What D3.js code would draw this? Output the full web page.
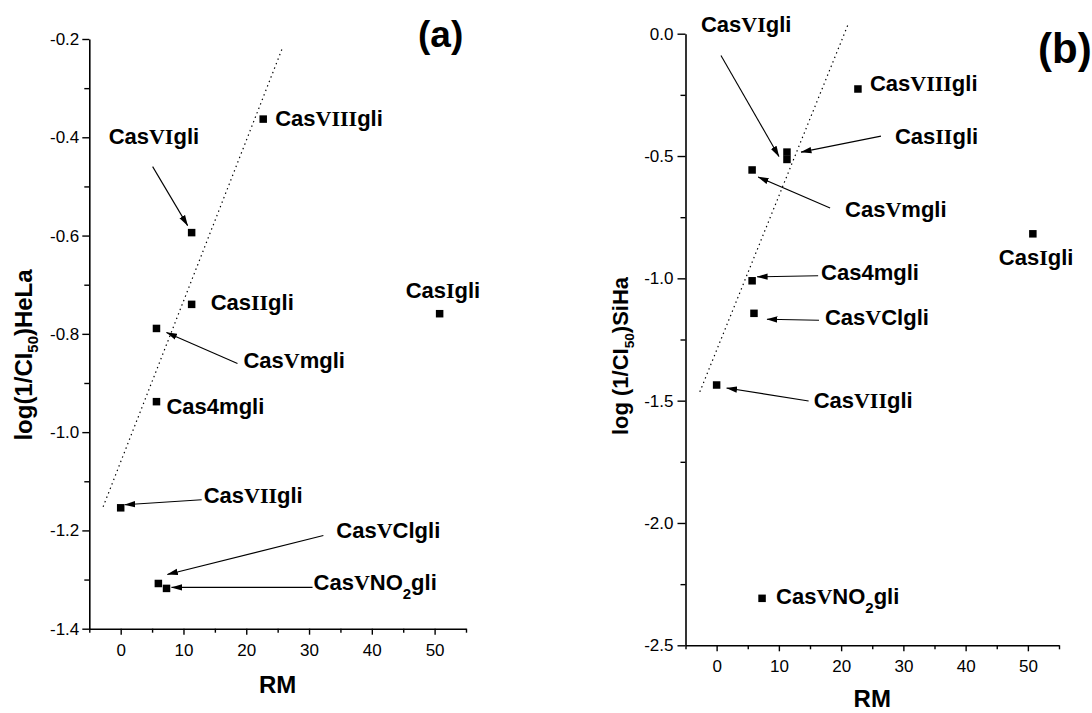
<!DOCTYPE html>
<html>
<head>
<meta charset="utf-8">
<script src="https://cdn.jsdelivr.net/npm/d3@7"></script>
<style>
  html, body { margin: 0; padding: 0; background: #fff; }
  svg { display: block; }
</style>
</head>
<body>
<svg id="chart" width="1092" height="713"></svg>
<script>
// ---- data ---------------------------------------------------------------
const compounds = ["CasIgli", "CasIIgli", "Cas4mgli", "CasVmgli", "CasVClgli",
                   "CasVNO2gli", "CasVIgli", "CasVIIgli", "CasVIIIgli"];
const rmValues  = [50.8, 11.3, 5.7, 5.7, 6.0, 7.3, 11.3, 0.0, 22.7];
const logHeLa   = [-0.759, -0.740, -0.938, -0.789, -1.308, -1.318, -0.594, -1.154, -0.363];
const logSiHa   = [-0.818, -0.484, -1.010, -0.557, -1.143, -2.308, -0.514, -1.436, -0.226];

// end points of the dotted correlation lines
const fitRMHeLa = [-2.8, 25.8];
const fitHeLa   = [-1.152, -0.217];
const fitRMSiHa = [-2.7, 21.2];
const fitSiHa   = [-1.464, 0.043];

// tick values
const xTicks      = [0, 10, 20, 30, 40, 50];
const xMinorTicks = [-5, 5, 15, 25, 35, 45, 55];
const yTicksHeLa  = [-1.4, -1.2, -1.0, -0.8, -0.6, -0.4, -0.2];
const yMinorHeLa  = [-1.3, -1.1, -0.9, -0.7, -0.5, -0.3];
const yTicksSiHa  = [-2.5, -2.0, -1.5, -1.0, -0.5, 0.0];
const yMinorSiHa  = [-2.25, -1.75, -1.25, -0.75, -0.25];

// ---- label placement (pixel offsets from each marker) ---------------------
// label: [dx, dy] of text start / baseline; arrow: [[tail dx,dy],[head dx,dy]]
const calloutsHeLa = {
  CasIgli:    { label: [-34, -16] },
  CasIIgli:   { label: [19, 6] },
  Cas4mgli:   { label: [10, 12] },
  CasVmgli:   { label: [87, 40],   arrow: [[81, 35], [10, 4]] },
  CasVClgli:  { label: [178, -45], arrow: [[165, -48], [9, -9]] },
  CasVNO2gli: { label: [147, 2],   arrow: [[146, -1], [5, -1]] },
  CasVIgli:   { label: [-83, -89], arrow: [[-39, -66], [-4, -7]] },
  CasVIIgli:  { label: [83, -5],   arrow: [[81, -8], [4, -3]] },
  CasVIIIgli: { label: [12, 7] }
};
const calloutsSiHa = {
  CasIgli:    { label: [-34, 31] },
  CasIIgli:   { label: [108, -8],    arrow: [[94, -16], [14, 0]] },
  Cas4mgli:   { label: [69, -1],     arrow: [[66, -5], [5, -4]] },
  CasVmgli:   { label: [93, 47],     arrow: [[78, 38], [6, 7]] },
  CasVClgli:  { label: [71, 12],     arrow: [[65, 7], [13, 6]] },
  CasVNO2gli: { label: [14, 6] },
  CasVIgli:   { label: [-86, -127],  arrow: [[-66, -104], [-8, -3]] },
  CasVIIgli:  { label: [97, 23],     arrow: [[92, 16], [10, 3]] },
  CasVIIIgli: { label: [12, 2] }
};

// ---- drawing ------------------------------------------------------------
const SANS  = "'Liberation Sans', Arial, Helvetica, sans-serif";
const SERIF = "'Liberation Serif', 'Times New Roman', serif";

const svg = d3.select("#chart");
svg.append("rect").attr("width", 1092).attr("height", 713).attr("fill", "#fff");

svg.append("defs").append("marker")
  .attr("id", "arrowhead")
  .attr("viewBox", "0 -4 11 8")
  .attr("refX", 10.5).attr("refY", 0)
  .attr("markerWidth", 11).attr("markerHeight", 8)
  .attr("markerUnits", "userSpaceOnUse")
  .attr("orient", "auto")
  .append("path").attr("d", "M0,-3.2L11,0L0,3.2Z").attr("fill", "#000");

// split a compound name into sans / serif (roman numeral) / subscript runs
function nameParts(name) {
  const m = name.match(/^Cas([IVX]*)(.*)$/);
  const parts = [{ t: "Cas", serif: false, sub: false }];
  if (m[1]) parts.push({ t: m[1], serif: true, sub: false });
  m[2].split(/(?<=[A-Z])(\d+)/).forEach((s, i) => {
    if (s) parts.push({ t: s, serif: false, sub: i % 2 === 1 });
  });
  return parts;
}

function drawPanel(cfg) {
  const x = d3.scaleLinear().domain([-5, 55]).range(cfg.xRange);
  const y = d3.scaleLinear().domain(cfg.yDomain).range(cfg.yRange);
  const g = svg.append("g");
  const y0 = cfg.yRange[0], x0 = cfg.xRange[0];

  // x axis
  g.append("g").attr("transform", `translate(0,${y0})`)
    .call(d3.axisBottom(x).tickValues(xTicks).tickSize(6).tickSizeOuter(0)
      .tickPadding(9).tickFormat(d3.format("d")));
  g.append("g").attr("transform", `translate(0,${y0})`)
    .call(d3.axisBottom(x).tickValues(xMinorTicks).tickSize(4).tickSizeOuter(0)
      .tickFormat(""))
    .call(s => s.select(".domain").remove());

  // y axis
  g.append("g").attr("transform", `translate(${x0},0)`)
    .call(d3.axisLeft(y).tickValues(cfg.yMajor).tickSize(cfg.yTick).tickSizeOuter(0)
      .tickPadding(cfg.yPad).tickFormat(v => v.toFixed(1)));
  g.append("g").attr("transform", `translate(${x0},0)`)
    .call(d3.axisLeft(y).tickValues(cfg.yMinor).tickSize(5).tickSizeOuter(0)
      .tickFormat(""))
    .call(s => s.select(".domain").remove());

  g.selectAll(".domain").attr("stroke", "#000").attr("stroke-width", 1.6);
  g.selectAll(".tick line").attr("stroke", "#000").attr("stroke-width", 1.4);
  g.selectAll(".tick text").attr("font-family", SANS).attr("font-size", 17)
    .attr("fill", "#000");

  // dotted trend line
  g.append("line")
    .attr("x1", x(cfg.fitX[0])).attr("y1", y(cfg.fitY[0]))
    .attr("x2", x(cfg.fitX[1])).attr("y2", y(cfg.fitY[1]))
    .attr("stroke", "#000").attr("stroke-width", 1.2)
    .attr("stroke-dasharray", "1.4,3.4");

  const pts = compounds.map((c, i) => ({ name: c, px: x(rmValues[i]), py: y(cfg.values[i]) }));

  // markers
  g.selectAll("rect.pt").data(pts).join("rect").attr("class", "pt")
    .attr("x", d => d.px - 3.75).attr("y", d => d.py - 3.75)
    .attr("width", 7.5).attr("height", 7.5).attr("fill", "#000");

  // arrows
  const withArrow = pts.filter(d => cfg.callouts[d.name].arrow);
  g.selectAll("line.arrow").data(withArrow).join("line").attr("class", "arrow")
    .attr("x1", d => d.px + cfg.callouts[d.name].arrow[0][0])
    .attr("y1", d => d.py + cfg.callouts[d.name].arrow[0][1])
    .attr("x2", d => d.px + cfg.callouts[d.name].arrow[1][0])
    .attr("y2", d => d.py + cfg.callouts[d.name].arrow[1][1])
    .attr("stroke", "#000").attr("stroke-width", 1.1)
    .attr("marker-end", "url(#arrowhead)");

  // compound labels
  pts.forEach(d => {
    const o = cfg.callouts[d.name].label;
    const t = g.append("text")
      .attr("x", d.px + o[0]).attr("y", d.py + o[1])
      .attr("font-family", SANS).attr("font-weight", "bold").attr("font-size", 22)
      .attr("fill", "#000");
    let shifted = false;
    nameParts(d.name).forEach(p => {
      const ts = t.append("tspan").text(p.t);
      if (p.serif) ts.attr("font-family", SERIF);
      if (p.sub) { ts.attr("font-size", 15).attr("dy", 9); shifted = true; }
      else if (shifted) { ts.attr("dy", -9); shifted = false; }
    });
  });

  // axis titles
  g.append("text")
    .attr("x", (cfg.xRange[0] + cfg.xRange[1]) / 2).attr("y", cfg.rmY)
    .attr("text-anchor", "middle").attr("font-family", SANS)
    .attr("font-weight", "bold").attr("font-size", 24).text("RM");

  const yt = g.append("text")
    .attr("transform", `translate(${cfg.titleX},${cfg.titleY}) rotate(-90)`)
    .attr("text-anchor", "middle").attr("font-family", SANS)
    .attr("font-weight", "bold").attr("font-size", cfg.titleSize);
  yt.append("tspan").text(cfg.titleParts[0]);
  yt.append("tspan").text("50").attr("font-size", cfg.titleSize * 0.62).attr("dy", 6);
  yt.append("tspan").text(cfg.titleParts[1]).attr("dy", -6);

  // panel tag
  g.append("text").attr("x", cfg.tagX).attr("y", cfg.tagY)
    .attr("font-family", SANS).attr("font-weight", "bold")
    .attr("font-size", cfg.tagSize).text(cfg.tag);
}

drawPanel({
  values: logHeLa, fitX: fitRMHeLa, fitY: fitHeLa,
  yDomain: [-1.4, -0.2], yMajor: yTicksHeLa, yMinor: yMinorHeLa,
  xRange: [89.3, 466], yRange: [628.7, 39], yTick: 7, yPad: 3,
  callouts: calloutsHeLa,
  rmY: 693, titleX: 32, titleY: 355, titleSize: 24,
  titleParts: ["log(1/CI", ")HeLa"],
  tag: "(a)", tagX: 418, tagY: 47, tagSize: 37
});

drawPanel({
  values: logSiHa, fitX: fitRMSiHa, fitY: fitSiHa,
  yDomain: [-2.5, 0], yMajor: yTicksSiHa, yMinor: yMinorSiHa,
  xRange: [685.5, 1059], yRange: [645.3, 33.7], yTick: 8, yPad: 4,
  callouts: calloutsSiHa,
  rmY: 707, titleX: 628, titleY: 356, titleSize: 22,
  titleParts: ["log (1/CI", ")SiHa"],
  tag: "(b)", tagX: 1038, tagY: 63, tagSize: 42
});
</script>
</body>
</html>
